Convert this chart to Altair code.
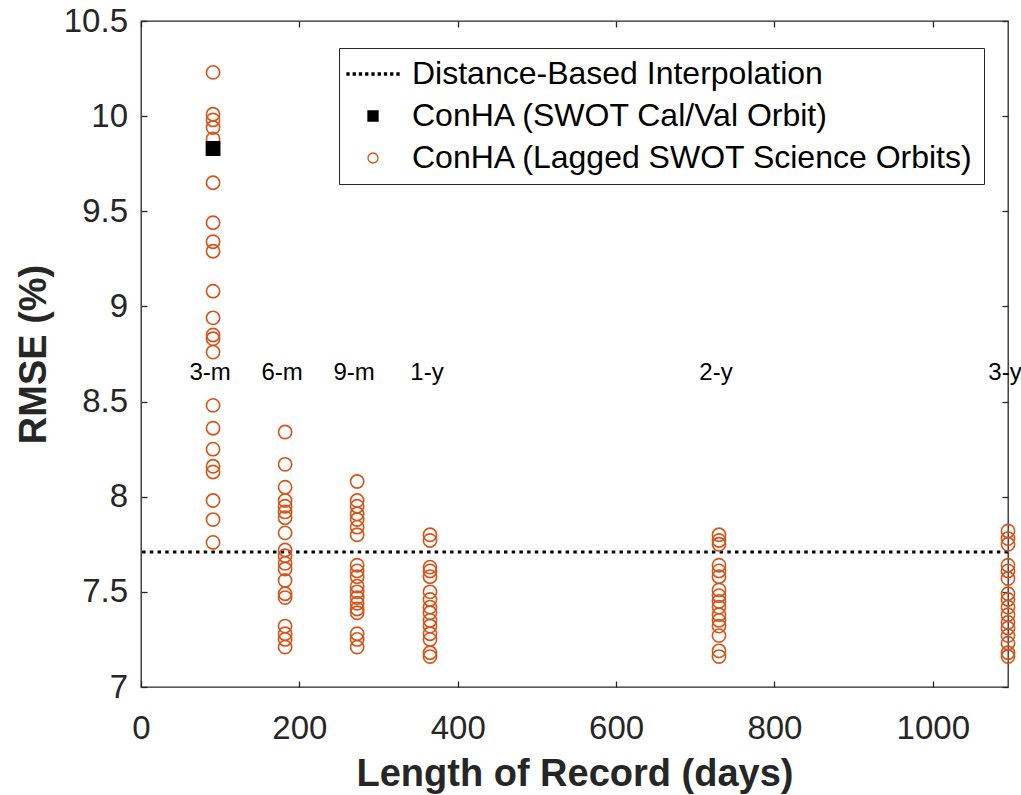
import altair as alt
import pandas as pd

# ---------------- data ----------------
period_days = [91, 182, 273, 365, 730, 1095]
period_labels = ["3-m", "6-m", "9-m", "1-y", "2-y", "3-y"]
label_rmse = 8.65

rmse_3m = [10.23, 10.01, 9.98, 9.94, 9.88, 9.65, 9.44, 9.34, 9.29, 9.08, 8.94,
           8.85, 8.83, 8.76, 8.48, 8.36, 8.25, 8.16, 8.13, 7.98, 7.88, 7.76]
rmse_6m = [8.34, 8.17, 8.05, 7.98, 7.95, 7.92, 7.89, 7.81, 7.72, 7.69, 7.65,
           7.62, 7.56, 7.49, 7.47, 7.32, 7.28, 7.25, 7.21]
rmse_9m = [8.08, 7.98, 7.95, 7.91, 7.88, 7.84, 7.80, 7.64, 7.61, 7.58, 7.53,
           7.50, 7.47, 7.44, 7.41, 7.39, 7.28, 7.25, 7.21]
rmse_1y = [7.80, 7.77, 7.63, 7.61, 7.58, 7.50, 7.46, 7.42, 7.39, 7.35, 7.32,
           7.28, 7.25, 7.18, 7.16]
rmse_2y = [7.80, 7.77, 7.75, 7.64, 7.61, 7.58, 7.51, 7.48, 7.45, 7.42, 7.38,
           7.35, 7.32, 7.27, 7.19, 7.16]
rmse_3y = [7.82, 7.78, 7.75, 7.64, 7.61, 7.57, 7.49, 7.46, 7.42, 7.38, 7.34,
           7.31, 7.27, 7.23, 7.18, 7.16]

calval_days = [91]
calval_rmse = [9.83]

interp_rmse = 7.71

series_names = ["Distance-Based Interpolation",
                "ConHA (SWOT Cal/Val Orbit)",
                "ConHA (Lagged SWOT Science Orbits)"]

x_ticks = [0, 200, 400, 600, 800, 1000]
y_ticks = [7, 7.5, 8, 8.5, 9, 9.5, 10, 10.5]

# ---------------- tables ----------------
rows = []
for d, vals in zip(period_days, [rmse_3m, rmse_6m, rmse_9m, rmse_1y, rmse_2y, rmse_3y]):
    for v in vals:
        rows.append({"days": d, "rmse": v, "series": series_names[2]})
for d, v in zip(calval_days, calval_rmse):
    rows.append({"days": d, "rmse": v, "series": series_names[1]})
df_pts = pd.DataFrame(rows)
df_pts["order"] = range(len(df_pts))

df_rule = pd.DataFrame({"rmse": [interp_rmse]})
df_text = pd.DataFrame({"days": period_days, "rmse": [label_rmse] * len(period_days),
                        "label": period_labels})

# ---------------- styling ----------------
FONT = "Liberation Sans"
AX = "#262626"
ORANGE = "#D95319"

xscale = alt.Scale(domain=[0, 1095], nice=False, zero=False)
yscale = alt.Scale(domain=[7, 10.5], nice=False, zero=False)

common_axis = dict(domain=False, grid=False, tickSize=6, offset=-6,
                   tickColor=AX, tickWidth=1.3, labelFlush=False)

# dotted line legend glyph, drawn from small squares
dots = " ".join(
    f"M{c - 0.2:.2f},-0.2h0.4v0.4h-0.4z" for c in [-5.0 + 1.25 * k for k in range(9)]
)

legend = alt.Legend(title=None, orient="none", legendX=198, legendY=27)

points = alt.Chart(df_pts).mark_point(
    filled=True, size=175, strokeWidth=1.6, opacity=1
).encode(
    x=alt.X("days:Q", scale=xscale,
            axis=alt.Axis(orient="bottom", values=x_ticks, format="d",
                          title="Length of Record (days)",
                          labelPadding=25, titlePadding=10, **common_axis)),
    y=alt.Y("rmse:Q", scale=yscale,
            axis=alt.Axis(orient="left", values=y_ticks, format="~g", title="RMSE (%)",
                          labelPadding=13.5, titlePadding=10, **common_axis)),
    shape=alt.Shape("series:N", scale=alt.Scale(domain=series_names,
                                                  range=[dots, "square", "circle"]),
                    legend=legend),
    fill=alt.Fill("series:N", scale=alt.Scale(domain=series_names,
                                                range=["#000000", "#000000", "transparent"]),
                  legend=legend),
    stroke=alt.Stroke("series:N", scale=alt.Scale(domain=series_names,
                                                    range=["#000000", "#000000", ORANGE]),
                      legend=legend),
    order=alt.Order("order:Q"),
)

rule = alt.Chart(df_rule).mark_rule(
    color="black", strokeWidth=3, strokeDash=[3.5, 4.2]
).encode(
    y=alt.Y("rmse:Q", scale=yscale,
            axis=alt.Axis(orient="right", values=y_ticks, labels=False, title=None,
                          **common_axis)),
)

text = alt.Chart(df_text).mark_text(
    font=FONT, fontSize=24, color="black", baseline="middle", align="center", dx=-3
).encode(
    x=alt.X("days:Q", scale=xscale,
            axis=alt.Axis(orient="top", values=x_ticks, labels=False, title=None,
                          **common_axis)),
    y=alt.Y("rmse:Q", scale=yscale, axis=None),
    text="label:N",
)

chart = alt.layer(rule, points, text).resolve_axis(
    x="independent", y="independent"
).properties(
    width=867, height=666,
    autosize=alt.AutoSizeParams(type="none"),
    padding={"left": 141, "top": 21, "right": 13, "bottom": 108},
).configure_view(
    stroke=AX, strokeWidth=1.3
).configure_axis(
    labelFont=FONT, labelFontSize=33, labelColor=AX,
    titleFont=FONT, titleFontSize=38, titleFontWeight="bold", titleColor=AX,
).configure_legend(
    padding=10, rowPadding=10, symbolOffset=8, labelOffset=23, symbolSize=100,
    symbolStrokeWidth=1.3, strokeColor=AX, fillColor="white",
    labelFont=FONT, labelFontSize=32, labelColor="black", labelLimit=1000,
)

chart.save("out.html", embed_options={"renderer": "svg", "actions": False})
